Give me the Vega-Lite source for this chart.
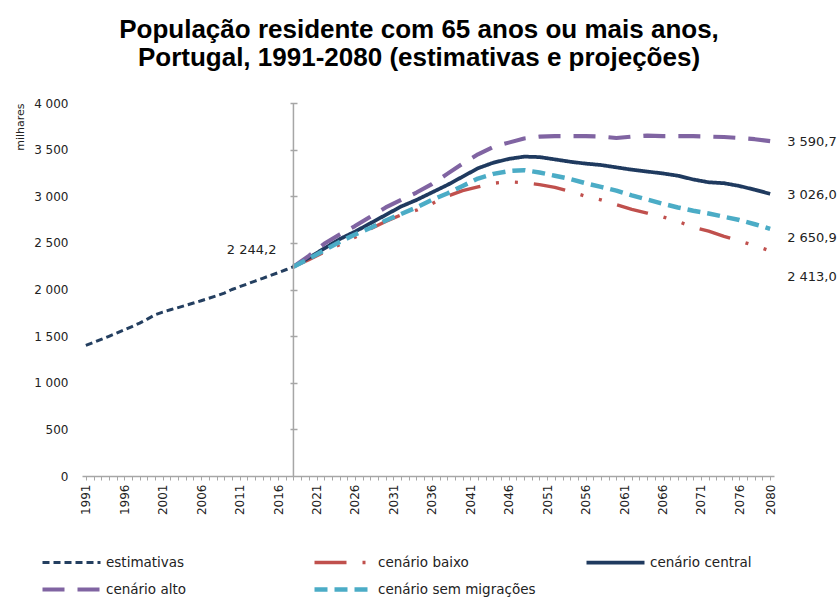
{
  "$schema": "https://vega.github.io/schema/vega-lite/v6.json",
  "width": 692,
  "height": 373,
  "autosize": {"type": "none"},
  "padding": {"left": 82, "top": 103, "right": 63, "bottom": 121},
  "config": {
    "locale": {"number": {"decimal": ",", "thousands": " ", "grouping": [3], "currency": ["", " €"]}},
    "view": {"stroke": null},
    "font": "DejaVu Sans",
    "axisX": {"labelOverlap": false}
  },
  "title": {
    "text": ["População residente com 65 anos ou mais anos,", "Portugal, 1991-2080 (estimativas e projeções)"],
    "font": "Liberation Sans",
    "fontSize": 26,
    "fontWeight": "bold",
    "color": "#000000",
    "anchor": "middle",
    "frame": "group",
    "dx": -9,
    "offset": 26,
    "lineHeight": 28
  },
  "datasets": {
    "series": [
      {"serie": "estimativas", "ano": 1991, "valor": 1400},
      {"serie": "estimativas", "ano": 1992, "valor": 1432},
      {"serie": "estimativas", "ano": 1993, "valor": 1465},
      {"serie": "estimativas", "ano": 1994, "valor": 1498},
      {"serie": "estimativas", "ano": 1995, "valor": 1532},
      {"serie": "estimativas", "ano": 1996, "valor": 1568},
      {"serie": "estimativas", "ano": 1997, "valor": 1603},
      {"serie": "estimativas", "ano": 1998, "valor": 1640},
      {"serie": "estimativas", "ano": 1999, "valor": 1683},
      {"serie": "estimativas", "ano": 2000, "valor": 1728},
      {"serie": "estimativas", "ano": 2001, "valor": 1758},
      {"serie": "estimativas", "ano": 2002, "valor": 1783},
      {"serie": "estimativas", "ano": 2003, "valor": 1806},
      {"serie": "estimativas", "ano": 2004, "valor": 1830},
      {"serie": "estimativas", "ano": 2005, "valor": 1855},
      {"serie": "estimativas", "ano": 2006, "valor": 1880},
      {"serie": "estimativas", "ano": 2007, "valor": 1906},
      {"serie": "estimativas", "ano": 2008, "valor": 1933},
      {"serie": "estimativas", "ano": 2009, "valor": 1962},
      {"serie": "estimativas", "ano": 2010, "valor": 2000},
      {"serie": "estimativas", "ano": 2011, "valor": 2030},
      {"serie": "estimativas", "ano": 2012, "valor": 2060},
      {"serie": "estimativas", "ano": 2013, "valor": 2090},
      {"serie": "estimativas", "ano": 2014, "valor": 2120},
      {"serie": "estimativas", "ano": 2015, "valor": 2150},
      {"serie": "estimativas", "ano": 2016, "valor": 2180},
      {"serie": "estimativas", "ano": 2017, "valor": 2212},
      {"serie": "estimativas", "ano": 2018, "valor": 2244.2},

      {"serie": "cenário baixo", "ano": 2018, "valor": 2244.2},
      {"serie": "cenário baixo", "ano": 2020, "valor": 2320},
      {"serie": "cenário baixo", "ano": 2022, "valor": 2400},
      {"serie": "cenário baixo", "ano": 2024, "valor": 2480},
      {"serie": "cenário baixo", "ano": 2026, "valor": 2560},
      {"serie": "cenário baixo", "ano": 2028, "valor": 2650},
      {"serie": "cenário baixo", "ano": 2030, "valor": 2730},
      {"serie": "cenário baixo", "ano": 2032, "valor": 2800},
      {"serie": "cenário baixo", "ano": 2034, "valor": 2850},
      {"serie": "cenário baixo", "ano": 2036, "valor": 2920},
      {"serie": "cenário baixo", "ano": 2038, "valor": 3000},
      {"serie": "cenário baixo", "ano": 2040, "valor": 3060},
      {"serie": "cenário baixo", "ano": 2042, "valor": 3100},
      {"serie": "cenário baixo", "ano": 2044, "valor": 3140},
      {"serie": "cenário baixo", "ano": 2046, "valor": 3155},
      {"serie": "cenário baixo", "ano": 2048, "valor": 3145},
      {"serie": "cenário baixo", "ano": 2050, "valor": 3125},
      {"serie": "cenário baixo", "ano": 2052, "valor": 3095},
      {"serie": "cenário baixo", "ano": 2054, "valor": 3050},
      {"serie": "cenário baixo", "ano": 2056, "valor": 3000},
      {"serie": "cenário baixo", "ano": 2058, "valor": 2960},
      {"serie": "cenário baixo", "ano": 2060, "valor": 2910},
      {"serie": "cenário baixo", "ano": 2062, "valor": 2860},
      {"serie": "cenário baixo", "ano": 2064, "valor": 2820},
      {"serie": "cenário baixo", "ano": 2066, "valor": 2780},
      {"serie": "cenário baixo", "ano": 2068, "valor": 2730},
      {"serie": "cenário baixo", "ano": 2070, "valor": 2670},
      {"serie": "cenário baixo", "ano": 2072, "valor": 2625},
      {"serie": "cenário baixo", "ano": 2074, "valor": 2570},
      {"serie": "cenário baixo", "ano": 2076, "valor": 2520},
      {"serie": "cenário baixo", "ano": 2078, "valor": 2470},
      {"serie": "cenário baixo", "ano": 2080, "valor": 2413.0},

      {"serie": "cenário central", "ano": 2018, "valor": 2244.2},
      {"serie": "cenário central", "ano": 2020, "valor": 2340},
      {"serie": "cenário central", "ano": 2022, "valor": 2440},
      {"serie": "cenário central", "ano": 2024, "valor": 2540},
      {"serie": "cenário central", "ano": 2026, "valor": 2620},
      {"serie": "cenário central", "ano": 2028, "valor": 2710},
      {"serie": "cenário central", "ano": 2030, "valor": 2800},
      {"serie": "cenário central", "ano": 2032, "valor": 2890},
      {"serie": "cenário central", "ano": 2034, "valor": 2960},
      {"serie": "cenário central", "ano": 2036, "valor": 3040},
      {"serie": "cenário central", "ano": 2038, "valor": 3120},
      {"serie": "cenário central", "ano": 2040, "valor": 3210},
      {"serie": "cenário central", "ano": 2042, "valor": 3300},
      {"serie": "cenário central", "ano": 2044, "valor": 3360},
      {"serie": "cenário central", "ano": 2046, "valor": 3400},
      {"serie": "cenário central", "ano": 2048, "valor": 3425},
      {"serie": "cenário central", "ano": 2050, "valor": 3420},
      {"serie": "cenário central", "ano": 2052, "valor": 3395},
      {"serie": "cenário central", "ano": 2054, "valor": 3370},
      {"serie": "cenário central", "ano": 2056, "valor": 3350},
      {"serie": "cenário central", "ano": 2058, "valor": 3335},
      {"serie": "cenário central", "ano": 2060, "valor": 3310},
      {"serie": "cenário central", "ano": 2062, "valor": 3285},
      {"serie": "cenário central", "ano": 2064, "valor": 3265},
      {"serie": "cenário central", "ano": 2066, "valor": 3245},
      {"serie": "cenário central", "ano": 2068, "valor": 3220},
      {"serie": "cenário central", "ano": 2070, "valor": 3180},
      {"serie": "cenário central", "ano": 2072, "valor": 3150},
      {"serie": "cenário central", "ano": 2074, "valor": 3140},
      {"serie": "cenário central", "ano": 2076, "valor": 3110},
      {"serie": "cenário central", "ano": 2078, "valor": 3070},
      {"serie": "cenário central", "ano": 2080, "valor": 3026.0},

      {"serie": "cenário alto", "ano": 2018, "valor": 2244.2},
      {"serie": "cenário alto", "ano": 2020, "valor": 2360},
      {"serie": "cenário alto", "ano": 2022, "valor": 2490},
      {"serie": "cenário alto", "ano": 2024, "valor": 2590},
      {"serie": "cenário alto", "ano": 2026, "valor": 2680},
      {"serie": "cenário alto", "ano": 2028, "valor": 2780},
      {"serie": "cenário alto", "ano": 2030, "valor": 2880},
      {"serie": "cenário alto", "ano": 2032, "valor": 2960},
      {"serie": "cenário alto", "ano": 2034, "valor": 3040},
      {"serie": "cenário alto", "ano": 2036, "valor": 3130},
      {"serie": "cenário alto", "ano": 2038, "valor": 3240},
      {"serie": "cenário alto", "ano": 2040, "valor": 3350},
      {"serie": "cenário alto", "ano": 2042, "valor": 3450},
      {"serie": "cenário alto", "ano": 2044, "valor": 3530},
      {"serie": "cenário alto", "ano": 2046, "valor": 3575},
      {"serie": "cenário alto", "ano": 2048, "valor": 3620},
      {"serie": "cenário alto", "ano": 2050, "valor": 3640},
      {"serie": "cenário alto", "ano": 2052, "valor": 3645},
      {"serie": "cenário alto", "ano": 2054, "valor": 3645},
      {"serie": "cenário alto", "ano": 2056, "valor": 3645},
      {"serie": "cenário alto", "ano": 2058, "valor": 3640},
      {"serie": "cenário alto", "ano": 2060, "valor": 3625},
      {"serie": "cenário alto", "ano": 2062, "valor": 3640},
      {"serie": "cenário alto", "ano": 2064, "valor": 3650},
      {"serie": "cenário alto", "ano": 2066, "valor": 3645},
      {"serie": "cenário alto", "ano": 2068, "valor": 3645},
      {"serie": "cenário alto", "ano": 2070, "valor": 3645},
      {"serie": "cenário alto", "ano": 2072, "valor": 3640},
      {"serie": "cenário alto", "ano": 2074, "valor": 3635},
      {"serie": "cenário alto", "ano": 2076, "valor": 3625},
      {"serie": "cenário alto", "ano": 2078, "valor": 3612},
      {"serie": "cenário alto", "ano": 2080, "valor": 3590.7},

      {"serie": "cenário sem migrações", "ano": 2018, "valor": 2244.2},
      {"serie": "cenário sem migrações", "ano": 2020, "valor": 2330},
      {"serie": "cenário sem migrações", "ano": 2022, "valor": 2420},
      {"serie": "cenário sem migrações", "ano": 2024, "valor": 2510},
      {"serie": "cenário sem migrações", "ano": 2026, "valor": 2590},
      {"serie": "cenário sem migrações", "ano": 2028, "valor": 2660},
      {"serie": "cenário sem migrações", "ano": 2030, "valor": 2740},
      {"serie": "cenário sem migrações", "ano": 2032, "valor": 2810},
      {"serie": "cenário sem migrações", "ano": 2034, "valor": 2880},
      {"serie": "cenário sem migrações", "ano": 2036, "valor": 2960},
      {"serie": "cenário sem migrações", "ano": 2038, "valor": 3030},
      {"serie": "cenário sem migrações", "ano": 2040, "valor": 3110},
      {"serie": "cenário sem migrações", "ano": 2042, "valor": 3190},
      {"serie": "cenário sem migrações", "ano": 2044, "valor": 3240},
      {"serie": "cenário sem migrações", "ano": 2046, "valor": 3270},
      {"serie": "cenário sem migrações", "ano": 2048, "valor": 3280},
      {"serie": "cenário sem migrações", "ano": 2050, "valor": 3255},
      {"serie": "cenário sem migrações", "ano": 2052, "valor": 3220},
      {"serie": "cenário sem migrações", "ano": 2054, "valor": 3185},
      {"serie": "cenário sem migrações", "ano": 2056, "valor": 3140},
      {"serie": "cenário sem migrações", "ano": 2058, "valor": 3100},
      {"serie": "cenário sem migrações", "ano": 2060, "valor": 3060},
      {"serie": "cenário sem migrações", "ano": 2062, "valor": 3010},
      {"serie": "cenário sem migrações", "ano": 2064, "valor": 2965},
      {"serie": "cenário sem migrações", "ano": 2066, "valor": 2920},
      {"serie": "cenário sem migrações", "ano": 2068, "valor": 2880},
      {"serie": "cenário sem migrações", "ano": 2070, "valor": 2845},
      {"serie": "cenário sem migrações", "ano": 2072, "valor": 2815},
      {"serie": "cenário sem migrações", "ano": 2074, "valor": 2780},
      {"serie": "cenário sem migrações", "ano": 2076, "valor": 2745},
      {"serie": "cenário sem migrações", "ano": 2078, "valor": 2700},
      {"serie": "cenário sem migrações", "ano": 2080, "valor": 2650.9}
    ],
    "rotulos": [
      {"serie": "estimativas", "ano": 2018, "valor": 2244.2},
      {"serie": "cenário alto", "ano": 2080, "valor": 3590.7},
      {"serie": "cenário central", "ano": 2080, "valor": 3026.0},
      {"serie": "cenário sem migrações", "ano": 2080, "valor": 2650.9},
      {"serie": "cenário baixo", "ano": 2080, "valor": 2413.0}
    ]
  },
  "layer": [
    {
      "data": {"name": "series"},
      "mark": {"type": "line", "strokeCap": "butt", "strokeJoin": "round"},
      "encoding": {
        "x": {
          "field": "ano", "type": "quantitative",
          "scale": {"domain": [1990.5, 2080.5], "nice": false, "zero": false},
          "axis": {
            "values": [1991,1992,1993,1994,1995,1996,1997,1998,1999,2000,2001,2002,2003,2004,2005,2006,2007,2008,2009,2010,2011,2012,2013,2014,2015,2016,2017,2018,2019,2020,2021,2022,2023,2024,2025,2026,2027,2028,2029,2030,2031,2032,2033,2034,2035,2036,2037,2038,2039,2040,2041,2042,2043,2044,2045,2046,2047,2048,2049,2050,2051,2052,2053,2054,2055,2056,2057,2058,2059,2060,2061,2062,2063,2064,2065,2066,2067,2068,2069,2070,2071,2072,2073,2074,2075,2076,2077,2078,2079,2080],
            "tickCount": 200,
            "labelExpr": "((datum.value - 1991) % 5 == 0 || datum.value == 2080) ? datum.value + '' : ''",
            "labelAngle": -90, "labelAlign": "right", "labelBaseline": "middle",
            "labelFont": "DejaVu Sans", "labelFontSize": 12, "labelColor": "#222222",
            "labelPadding": 4, "labelOverlap": false, "labelBound": false, "labelFlush": false,
            "tickSize": 4, "tickColor": "#A6A6A6", "tickWidth": 1,
            "domainColor": "#A6A6A6", "domainWidth": 1.5,
            "grid": false, "title": null
          }
        },
        "y": {
          "field": "valor", "type": "quantitative",
          "scale": {"domain": [0, 4000], "nice": false},
          "axis": {
            "orient": "left",
            "values": [0, 500, 1000, 1500, 2000, 2500, 3000, 3500, 4000],
            "tickCount": 20,
            "format": ",.0f",
            "domain": false, "ticks": false, "grid": false,
            "labelFont": "DejaVu Sans", "labelFontSize": 12, "labelColor": "#222222",
            "labelPadding": 14,
            "title": "milhares", "titleFont": "DejaVu Sans", "titleFontSize": 11,
            "titleFontWeight": "normal", "titleColor": "#222222",
            "titleAnchor": "end", "titlePadding": 8
          }
        },
        "color": {
          "field": "serie", "type": "nominal",
          "scale": {
            "domain": ["estimativas", "cenário baixo", "cenário central", "cenário alto", "cenário sem migrações"],
            "range": ["#243F60", "#C0504D", "#1F3A5F", "#8064A2", "#4BACC6"]
          },
          "legend": {
            "title": null, "orient": "none", "legendX": -42, "legendY": 452,
            "direction": "horizontal", "columns": 3, "gridAlign": "all",
            "columnPadding": 48, "rowPadding": 12, "clipHeight": 15,
            "symbolType": "stroke", "symbolSize": 3364,
            "labelFont": "DejaVu Sans", "labelFontSize": 13.5, "labelColor": "#222222",
            "labelOffset": 3
          }
        },
        "strokeDash": {
          "field": "serie", "type": "nominal",
          "scale": {
            "domain": ["estimativas", "cenário baixo", "cenário central", "cenário alto", "cenário sem migrações"],
            "range": [[7, 4], [32, 16, 3, 16, 3, 16], [1, 0], [22, 13], [13, 7]]
          },
          "legend": {
            "title": null, "orient": "none", "legendX": -42, "legendY": 452,
            "direction": "horizontal", "columns": 3, "gridAlign": "all",
            "columnPadding": 48, "rowPadding": 12, "clipHeight": 15,
            "symbolType": "stroke", "symbolSize": 3364,
            "labelFont": "DejaVu Sans", "labelFontSize": 13.5, "labelColor": "#222222",
            "labelOffset": 3
          }
        },
        "strokeWidth": {
          "field": "serie", "type": "nominal",
          "scale": {
            "domain": ["estimativas", "cenário baixo", "cenário central", "cenário alto", "cenário sem migrações"],
            "range": [3, 4.5, 4.5, 5, 4.5]
          },
          "legend": {
            "title": null, "orient": "none", "legendX": -42, "legendY": 452,
            "direction": "horizontal", "columns": 3, "gridAlign": "all",
            "columnPadding": 48, "rowPadding": 12, "clipHeight": 15,
            "symbolType": "stroke", "symbolSize": 3364,
            "labelFont": "DejaVu Sans", "labelFontSize": 13.5, "labelColor": "#222222",
            "labelOffset": 3
          }
        }
      }
    },
    {
      "data": {"name": "rotulos"},
      "transform": [{"filter": "datum.serie == 'estimativas'"}],
      "mark": {"type": "rule", "color": "#A6A6A6", "strokeWidth": 1.5},
      "encoding": {"x": {"field": "ano", "type": "quantitative"}}
    },
    {
      "data": {"name": "rotulos"},
      "transform": [{"filter": "datum.serie == 'cenário alto' || datum.serie == 'cenário central'"}],
      "mark": {"type": "text", "align": "left", "baseline": "middle", "dx": 17, "dy": 1, "font": "DejaVu Sans", "fontSize": 13, "color": "#222222"},
      "encoding": {
        "x": {"field": "ano", "type": "quantitative"},
        "y": {
          "field": "valor", "type": "quantitative",
          "axis": {
            "orient": "right", "offset": -484,
            "values": [500, 1000, 1500, 2000, 2500, 3000, 3500, 4000],
            "tickCount": 20,
            "labels": false, "domain": false, "grid": false,
            "ticks": true, "tickSize": 7, "tickColor": "#A6A6A6", "tickWidth": 1.5,
            "title": null
          }
        },
        "text": {"field": "valor", "type": "quantitative", "format": ",.1f"}
      }
    },
    {
      "data": {"name": "rotulos"},
      "transform": [{"filter": "datum.serie == 'cenário sem migrações'"}],
      "mark": {"type": "text", "align": "left", "baseline": "middle", "dx": 17, "dy": 9, "font": "DejaVu Sans", "fontSize": 13, "color": "#222222"},
      "encoding": {
        "x": {"field": "ano", "type": "quantitative"},
        "y": {"field": "valor", "type": "quantitative", "axis": null},
        "text": {"field": "valor", "type": "quantitative", "format": ",.1f"}
      }
    },
    {
      "data": {"name": "rotulos"},
      "transform": [{"filter": "datum.serie == 'cenário baixo'"}],
      "mark": {"type": "text", "align": "left", "baseline": "middle", "dx": 17, "dy": 26, "font": "DejaVu Sans", "fontSize": 13, "color": "#222222"},
      "encoding": {
        "x": {"field": "ano", "type": "quantitative"},
        "y": {"field": "valor", "type": "quantitative", "axis": null},
        "text": {"field": "valor", "type": "quantitative", "format": ",.1f"}
      }
    },
    {
      "data": {"name": "rotulos"},
      "transform": [{"filter": "datum.serie == 'estimativas'"}],
      "mark": {"type": "text", "align": "right", "baseline": "middle", "dx": -17, "dy": -17, "font": "DejaVu Sans", "fontSize": 13, "color": "#222222"},
      "encoding": {
        "x": {"field": "ano", "type": "quantitative"},
        "y": {"field": "valor", "type": "quantitative", "axis": null},
        "text": {"field": "valor", "type": "quantitative", "format": ",.1f"}
      }
    }
  ],
  "resolve": {"axis": {"y": "independent"}}
}
